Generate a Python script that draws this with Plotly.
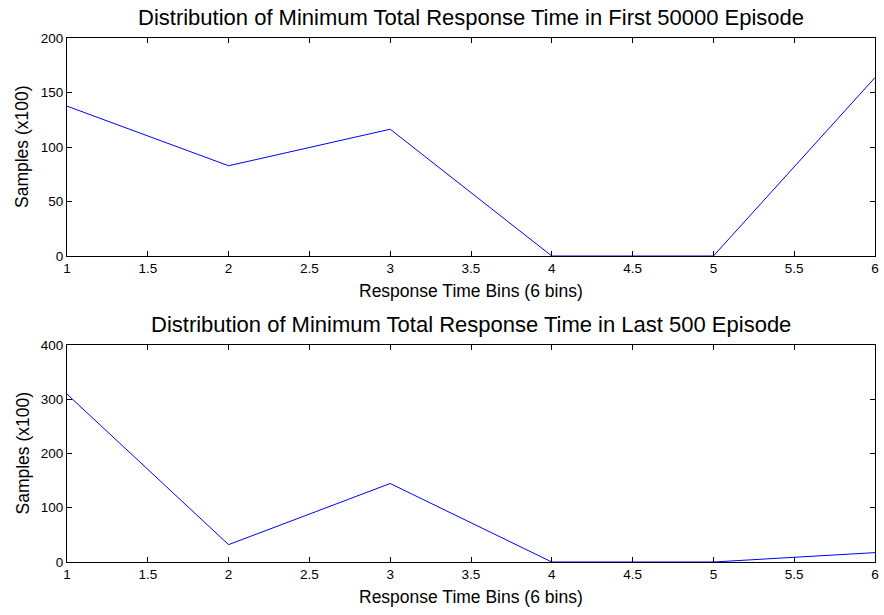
import plotly.graph_objects as go

bins = [1, 2, 3, 4, 5, 6]
first_50000 = [137.5, 82.8, 116.3, 0, 0, 163.7]
last_500 = [309.5, 32, 144.7, 0, 0, 17.3]

title_top = "Distribution of Minimum Total Response Time in First 50000 Episode"
title_bot = "Distribution of Minimum Total Response Time in Last 500 Episode"
xlabel = "Response Time Bins (6 bins)"
ylabel = "Samples (x100)"

W, H = 884, 615
fig = go.Figure()
fig.add_trace(go.Scatter(x=bins, y=first_50000, mode="lines",
                         line=dict(color="#0000FF", width=1), xaxis="x", yaxis="y"))
fig.add_trace(go.Scatter(x=bins, y=last_500, mode="lines",
                         line=dict(color="#0000FF", width=1), xaxis="x2", yaxis="y2"))

font = dict(family="Liberation Sans, Arial", color="black")
axcommon = dict(showgrid=False, zeroline=False, showline=True, linecolor="black",
                linewidth=1, mirror="ticks", ticks="inside", ticklen=5, tickcolor="black",
                tickfont=dict(size=13.5, **font), automargin=False)

top_dom = [1 - 256 / H, 1 - 38 / H]
bot_dom = [1 - 562 / H, 1 - 345 / H]


def ann(text, x, y, size, angle=0, xanchor="center", yanchor="middle", xshift=0, yshift=0):
    return dict(text=text, x=x, xref="paper", y=y, yref="paper", xanchor=xanchor,
                yanchor=yanchor, xshift=xshift, yshift=yshift, textangle=angle,
                showarrow=False, font=dict(size=size, **font))


fig.update_layout(
    width=W, height=H, showlegend=False,
    paper_bgcolor="white", plot_bgcolor="white",
    margin=dict(l=67, r=9, t=0, b=0, autoexpand=False),
    xaxis=dict(domain=[0, 1], range=[1, 6], dtick=0.5, anchor="y", **axcommon),
    yaxis=dict(domain=top_dom, range=[0, 200], dtick=50, anchor="x", **axcommon),
    xaxis2=dict(domain=[0, 1], range=[1, 6], dtick=0.5, anchor="y2", **axcommon),
    yaxis2=dict(domain=bot_dom, range=[0, 400], dtick=100, anchor="x2", **axcommon),
    annotations=[
        ann(title_top, 0.5, top_dom[1], 22, yshift=20),
        ann(title_bot, 0.5, bot_dom[1], 22, yshift=21),
        ann(xlabel, 0.5, top_dom[0], 17.5, yshift=-35),
        ann(xlabel, 0.5, bot_dom[0], 17.5, yshift=-35),
        ann(ylabel, 0, sum(top_dom) / 2, 17.5, angle=-90, xshift=-45),
        ann(ylabel, 0, sum(bot_dom) / 2, 17.5, angle=-90, xshift=-45),
    ],
)

fig.write_html("out.html", config={"displayModeBar": False},
               post_script="document.body.style.margin='0';")
